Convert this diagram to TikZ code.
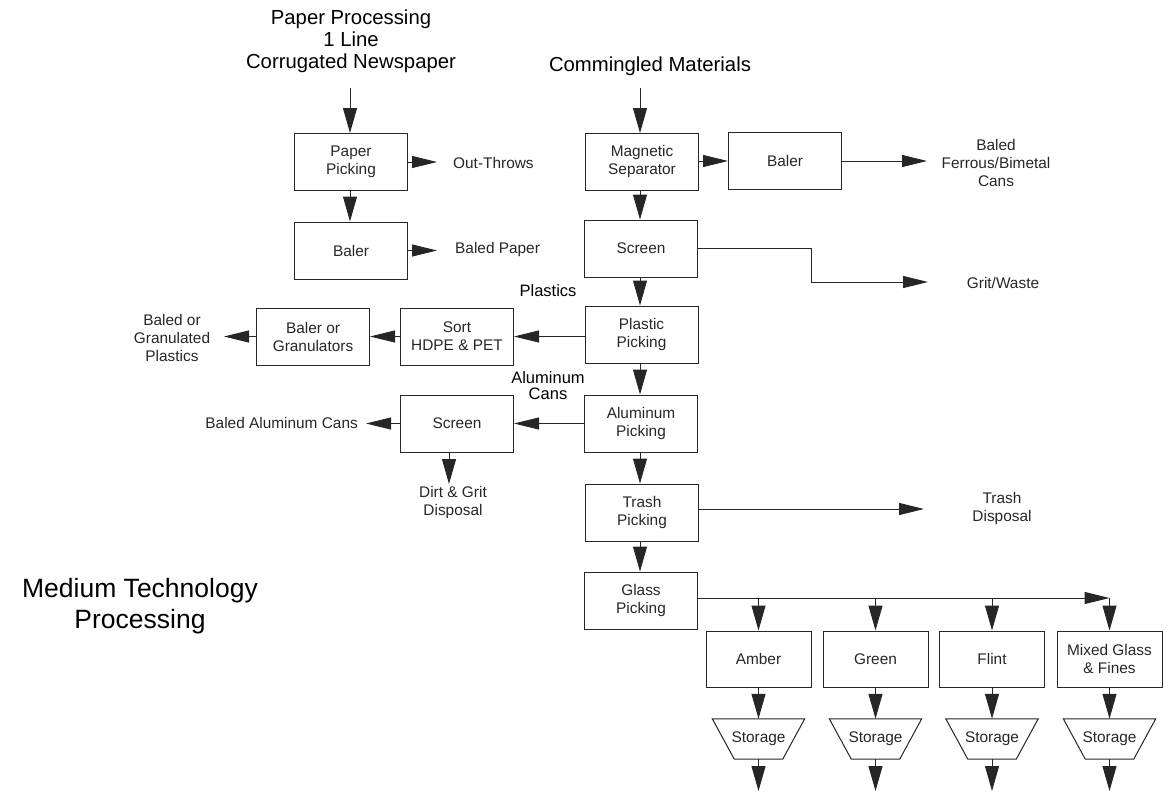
\documentclass[tikz,border=0pt]{standalone}
\usepackage{fontspec}
\setmainfont{Liberation Sans}
\usetikzlibrary{arrows.meta}
\newcommand{\myBody}{\fontsize{15.4}{18}\selectfont}
\newcommand{\myTitle}{\fontsize{20.3}{22}\selectfont}
\newcommand{\myBig}{\fontsize{26.5}{31}\selectfont}
\newcommand{\myLab}{\fontsize{16.5}{16}\selectfont}
\definecolor{ink}{gray}{0.15}
\tikzset{
  box/.style={draw=ink, line width=1pt, minimum width=113pt, minimum height=57pt,
              inner sep=0pt, align=center, font=\myBody, text=ink},
  gbox/.style={box, minimum width=105pt, minimum height=56pt},
  stor/.style={minimum width=92pt, minimum height=40pt, inner sep=0pt, font=\myBody, text=ink},
  lbl/.style={align=center, font=\myBody, text=ink, inner sep=0pt},
  ttl/.style={align=center, font=\myTitle, text=black, inner sep=0pt},
  arr/.style={draw=ink, line width=1pt, -{Triangle[length=25pt,width=12pt]}},
  arrv/.style={draw=ink, line width=1pt, -{Triangle[length=25pt,width=14pt]}},
}
\begin{document}
\begin{tikzpicture}[x=1pt,y=-1pt]
\useasboundingbox (0,0) rectangle (1175,804);

% titles
\node[ttl] (tpaper) at (351,41) {Paper Processing\\1 Line\\Corrugated Newspaper};
\node[ttl] (tcomm) at (650,66) {Commingled Materials};
\node[align=center, font=\myBig, inner sep=0pt] (tmed) at (140,606) {Medium Technology\\Processing};

% paper line
\coordinate (pin) at (350,88);
\node[box] (pp) at (351,162) {Paper\\Picking};
\node[box] (pb) at (351,250.5) {Baler};
\node[lbl, anchor=west] (outthrows) at (453,163) {Out-Throws};
\node[lbl, anchor=west] (baledpaper) at (455,250) {Baled Paper};
\coordinate (outin) at (437,162);
\coordinate (bpin) at (437,250.5);
\draw[arrv] (pin) -- (pp.north -| pin);
\draw[arrv] (pp.south -| pin) -- (pb.north -| pin);
\draw[arr] (pp.east) -- (outin);
\draw[arr] (pb.east) -- (bpin);

% main column
\coordinate (cin) at (640,88);
\node[box] (ms) at (642,162) {Magnetic\\Separator};
\node[box] (bal) at (785,161) {Baler};
\node[box] (scr) at (641,248.5) {Screen};
\node[box] (pl) at (641.5,334.5) {Plastic\\Picking};
\node[box] (al) at (641,423.5) {Aluminum\\Picking};
\node[box] (tr) at (642,512.5) {Trash\\Picking};
\node[box] (gl) at (641,600.5) {Glass\\Picking};

\draw[arrv] (cin) -- (ms.north -| cin);
\draw[arrv] (ms.south -| cin) -- (scr.north -| cin);
\draw[arrv] (scr.south -| cin) -- (pl.north -| cin);
\draw[arrv] (pl.south -| cin) -- (al.north -| cin);
\draw[arrv] (al.south -| cin) -- (tr.north -| cin);
\draw[arrv] (tr.south -| cin) -- (gl.north -| cin);

% ferrous
\draw[arr] (ms.east |- bal.west) -- (bal.west);
\node[lbl] (ferrous) at (996,163) {Baled\\Ferrous/Bimetal\\Cans};
\coordinate (ferin) at (927,161);
\draw[arr] (bal.east) -- (ferin);

% grit
\node[lbl] (grit) at (1003,283) {Grit/Waste};
\coordinate (gritin) at (928,282);
\draw[arr] (scr.east) -- (811,248.5) |- (gritin);

% plastics
\node[lbl, font=\myLab, text=black] (plab) at (548,291) {Plastics};
\node[box] (sort) at (457,336.5) {Sort\\HDPE \& PET};
\node[box] (bg) at (313,336.5) {Baler or\\Granulators};
\node[lbl] (bgp) at (172,338) {Baled or\\Granulated\\Plastics};
\coordinate (bgpin) at (224,336.5);
\draw[arr] (pl.west |- sort.east) -- (sort.east);
\draw[arr] (sort.west) -- (bg.east);
\draw[arr] (bg.west) -- (bgpin);

% aluminum
\node[lbl, font=\myLab, text=black] (alab) at (548,386) {Aluminum\\Cans};
\node[box] (scr2) at (457,423.5) {Screen};
\node[lbl, anchor=east] (bac) at (358,423) {Baled Aluminum Cans};
\coordinate (bacin) at (366,423.5);
\draw[arr] (al.west) -- (scr2.east);
\draw[arr] (scr2.west) -- (bacin);
\coordinate (dgtop) at (449,452);
\coordinate (dgin) at (449,484);
\node[lbl] (dg) at (453,503) {Dirt \& Grit\\Disposal};
\draw[arrv] (dgtop) -- (dgin);

% trash
\node[lbl] (td) at (1002,509) {Trash\\Disposal};
\coordinate (tdin) at (924,509);
\draw[arr] (tr.east |- tdin) -- (tdin);

% glass
\node[gbox] (amb) at (758.5,659) {Amber};
\node[gbox] (grn) at (875.5,659) {Green};
\node[gbox] (fli) at (992,659) {Flint};
\node[gbox] (mix) at (1109.5,659) {Mixed Glass\\\& Fines};
\coordinate (gline) at (698,598);
\draw[arr] (gl.east |- gline) -- (mix.north |- gline);
\draw[arrv] (mix.north |- gline) -- (mix.north);
\draw[arrv] (amb.north |- gline) -- (amb.north);
\draw[arrv] (grn.north |- gline) -- (grn.north);
\draw[arrv] (fli.north |- gline) -- (fli.north);

% storage
\foreach \n/\xx in {amb/758.5,grn/875.5,fli/992,mix/1109.5}{
  \node[stor] (s\n) at (\xx,739) {Storage};
  \draw[draw=ink, line width=1pt] (s\n.north west) -- (s\n.north east)
     -- ([xshift=-22pt]s\n.south east) -- ([xshift=22pt]s\n.south west) -- cycle;
  \draw[arrv] (\n.south) -- (s\n.north);
  \coordinate (o\n) at (\xx,791);
  \draw[arrv] (s\n.south) -- (o\n);
}
\end{tikzpicture}
\end{document}
